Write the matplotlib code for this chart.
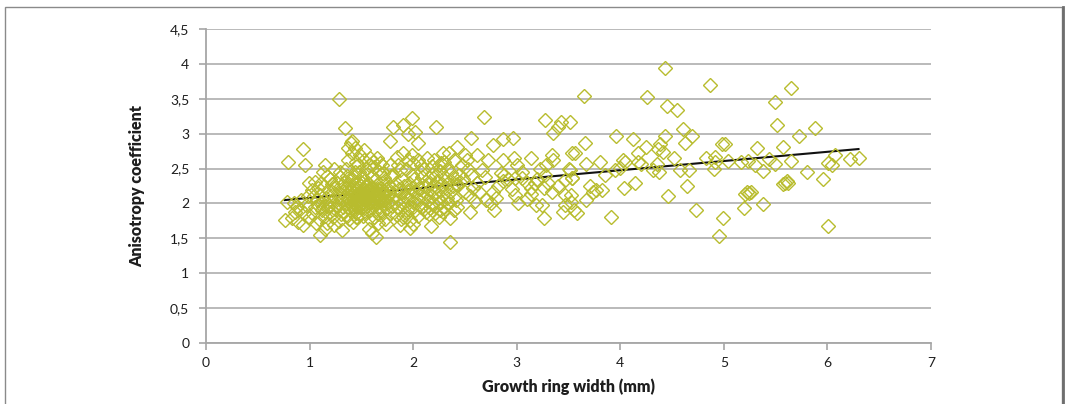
import matplotlib
matplotlib.use("Agg")
import matplotlib.pyplot as plt
from matplotlib.patches import Rectangle
from matplotlib.lines import Line2D
from matplotlib.ticker import FuncFormatter
import numpy as np

plt.rcParams['font.family'] = ['Lato', 'DejaVu Sans']

# Growth ring width (mm) and anisotropy coefficient per sample
ring_width_low = [
    0.78, 0.79, 0.76, 0.83, 0.86, 0.89, 0.91, 0.94, 0.94, 0.96, 0.97, 0.99, 0.99, 0.92, 0.88, 0.98, 0.85, 0.95,
    1.02, 1.05, 1.08, 1.10, 1.15, 1.13, 1.15, 1.24, 1.29, 1.24, 1.31, 1.28, 1.34,
    1.03, 1.05, 1.07, 1.09, 1.10, 1.12, 1.12, 1.14, 1.15, 1.16, 1.17, 1.18, 1.19, 1.20, 1.20, 1.21, 1.22, 1.23,
    1.24, 1.25, 1.26, 1.27, 1.28, 1.28, 1.29, 1.30, 1.30, 1.04, 1.06, 1.08, 1.11, 1.13, 1.17, 1.19, 1.22, 1.26, 1.29,
]
anisotropy_low = [
    2.02, 2.59, 1.76, 1.79, 1.88, 1.74, 1.92, 1.69, 2.78, 2.55, 1.98, 1.79, 2.29, 2.05, 1.95, 2.10, 2.00, 1.87,
    2.19, 2.31, 2.22, 1.55, 1.64, 2.45, 2.55, 2.50, 2.45, 1.69, 1.62, 3.50, 3.08,
    1.85, 1.95, 2.05, 1.78, 2.12, 1.90, 2.00, 2.25, 1.82, 2.08, 1.72, 1.95, 2.18, 2.35, 1.88, 2.03, 2.12, 1.80,
    2.22, 1.92, 2.30, 2.00, 1.75, 2.15, 2.08, 1.85, 2.25, 2.10, 1.72, 1.98, 2.30, 1.95, 2.40, 1.98, 2.28, 1.97, 2.38,
]

ring_width_mid = [
    1.37, 1.37, 1.40, 1.41, 1.41, 1.44, 1.45, 1.49, 1.53, 1.58, 1.61, 1.57, 1.60, 1.64, 1.42, 1.45, 1.71, 1.78, 1.81, 1.78,
    1.31, 1.32, 1.32, 1.33, 1.33, 1.34, 1.35, 1.35, 1.36, 1.36, 1.37, 1.37, 1.38, 1.38, 1.39, 1.39, 1.40, 1.40,
    1.41, 1.41, 1.42, 1.42, 1.43, 1.43, 1.44, 1.44, 1.45, 1.45, 1.46, 1.46, 1.47, 1.47, 1.48, 1.48, 1.49, 1.49,
    1.50, 1.50, 1.50, 1.51, 1.51, 1.52, 1.52, 1.53, 1.53, 1.54, 1.54, 1.55, 1.55, 1.56, 1.56, 1.57, 1.57, 1.58,
    1.58, 1.59, 1.59, 1.60, 1.60, 1.61, 1.61, 1.62, 1.62, 1.63, 1.63, 1.64, 1.64, 1.65, 1.65, 1.66, 1.66, 1.67,
    1.67, 1.68, 1.68, 1.69, 1.69, 1.70, 1.70, 1.71, 1.72, 1.72, 1.73, 1.73, 1.74, 1.75, 1.75, 1.76, 1.77, 1.77,
    1.78, 1.79, 1.79, 1.80, 1.80,
    1.35, 1.38, 1.43, 1.46, 1.48, 1.52, 1.55, 1.59, 1.62, 1.66, 1.70, 1.74, 1.47, 1.53, 1.57, 1.65, 1.68,
    1.44, 1.46, 1.48, 1.50, 1.52, 1.54, 1.56, 1.58, 1.60, 1.42, 1.40, 1.38, 1.44, 1.51, 1.55, 1.62, 1.64, 1.66,
    1.49, 1.53, 1.57, 1.61, 1.47, 1.45, 1.51, 1.55, 1.59, 1.63, 1.67, 1.71, 1.73, 1.69,
]
anisotropy_mid = [
    2.62, 2.79, 2.86, 2.72, 2.89, 2.79, 2.60, 2.69, 2.77, 2.65, 2.60, 1.63, 1.57, 1.52, 1.74, 1.81, 2.43, 2.55, 2.41, 2.89,
    2.05, 1.95, 2.18, 2.30, 1.88, 2.10, 2.00, 2.22, 1.82, 2.40, 2.08, 1.95, 2.15, 2.28, 2.02, 1.90, 2.12, 2.20,
    1.98, 2.35, 2.06, 2.25, 1.92, 2.16, 2.00, 2.45, 2.10, 1.87, 2.20, 2.03, 2.30, 1.95, 2.12, 2.08, 2.18, 1.99,
    2.05, 2.25, 1.85, 2.14, 2.38, 2.00, 2.10, 1.93, 2.20, 2.07, 2.50, 2.15, 1.97, 2.02, 2.30, 2.10, 1.89, 2.18,
    2.04, 2.24, 1.95, 2.08, 2.40, 2.00, 2.15, 1.80, 2.20, 2.05, 2.33, 1.92, 2.12, 2.00, 2.26, 2.10, 1.85, 2.18,
    2.45, 2.03, 1.95, 2.22, 2.08, 2.30, 1.88, 2.13, 2.00, 2.36, 2.05, 1.78, 2.20, 2.10, 1.93, 2.28, 2.02, 2.15,
    1.86, 2.22, 2.40, 2.07, 1.97,
    2.50, 1.78, 2.38, 1.80, 2.45, 1.82, 2.42, 1.76, 2.52, 1.72, 2.55, 1.70, 2.55, 2.62, 2.55, 2.65, 2.58,
    2.10, 2.14, 2.02, 2.15, 2.06, 2.18, 2.12, 2.00, 2.22, 2.15, 2.05, 2.22, 2.28, 2.30, 2.25, 2.10, 2.02, 2.20,
    2.10, 2.12, 2.20, 2.06, 2.05, 1.97, 1.95, 2.05, 2.14, 2.16, 2.06, 2.05, 2.15, 2.15,
]

ring_width_high = [
    1.81, 1.90, 1.99, 2.22, 2.02, 1.95, 2.05, 1.84, 1.90, 1.99, 1.95, 2.13, 2.08, 2.18, 2.29, 2.35, 2.39, 2.27, 2.33,
    1.87, 1.99, 2.08, 2.15, 2.22, 2.39, 2.45, 2.16, 2.21, 2.29, 2.36, 2.39, 1.97, 1.90, 1.87, 1.84, 2.36, 1.97, 2.00, 2.17,
    1.82, 1.83, 1.84, 1.85, 1.86, 1.87, 1.88, 1.89, 1.90, 1.91, 1.92, 1.93, 1.94, 1.95, 1.96, 1.97, 1.98, 1.99,
    2.00, 2.01, 2.02, 2.03, 2.04, 2.05, 2.06, 2.07, 2.08, 2.09, 2.10, 2.11, 2.12, 2.13, 2.14, 2.15, 2.16, 2.17,
    2.18, 2.19, 2.20, 2.21, 2.22, 2.23, 2.24, 2.25, 2.26, 2.27, 2.28, 2.29, 2.30, 2.31, 2.32, 2.33, 2.34, 2.35,
    2.36, 2.37, 2.38, 2.40, 2.41, 2.42,
    1.85, 1.93, 2.00, 2.05, 2.10, 2.20, 2.25, 2.30, 1.88, 2.05, 2.12, 2.25, 1.95, 2.08, 2.26,
    2.68, 3.27, 3.43, 3.40, 3.35, 2.56, 2.87, 2.96, 2.77, 2.42, 2.50, 2.72, 2.87, 2.97, 3.14, 3.34, 3.35, 3.53,
    3.22, 3.51, 2.47, 2.53, 2.44, 2.56, 2.69, 2.85, 2.88, 2.92, 2.87, 2.98, 3.05, 3.10, 3.14, 3.18, 3.27, 3.26,
    3.34, 3.47, 3.53, 3.47, 2.42, 2.50, 2.55, 2.64, 2.60, 2.70, 2.77, 2.80, 2.75, 2.78, 2.98, 3.01, 3.10, 3.14,
    3.19, 3.24, 3.26, 3.45, 3.47, 2.55, 2.42,
    2.62, 2.58, 2.66, 2.82, 2.95, 3.05, 3.20, 3.30, 3.40, 2.48, 2.52, 2.62, 3.00, 3.28,
    4.43, 3.65, 4.26, 4.45, 4.55, 3.51, 4.61, 4.69, 4.62, 3.96, 4.12, 4.43, 3.66, 3.56, 4.25, 4.38, 4.36, 4.41,
    4.17, 4.52, 3.67, 3.80, 4.03, 4.05, 4.17, 4.20, 4.35, 4.32, 4.37, 4.58, 4.66, 4.83, 4.91, 4.90, 3.85, 3.95,
    4.00, 3.53, 3.50, 4.14, 4.04, 4.64, 3.71, 3.77, 3.74, 3.82, 3.67, 4.46, 3.52, 3.52, 3.55, 3.58, 3.91, 4.73,
    4.87, 5.65, 5.49, 5.51, 5.88, 5.73, 4.98, 5.01, 5.32, 5.57, 4.91, 5.04, 5.17, 5.23, 5.30, 5.38, 5.44, 5.49,
    5.65, 6.01, 6.04, 6.07, 6.22, 6.30, 5.80, 5.96, 5.57, 5.59, 5.61, 5.62, 5.20, 5.22, 5.24, 5.26, 5.38, 5.19,
    4.99, 6.01, 4.95,
]
anisotropy_high = [
    3.10, 3.12, 3.22, 3.10, 3.03, 3.00, 2.86, 2.67, 2.72, 2.69, 2.62, 2.65, 2.55, 2.53, 2.72, 2.72, 2.62, 2.58, 2.50,
    2.48, 2.41, 2.45, 2.36, 2.41, 2.36, 2.31, 1.93, 1.86, 1.88, 1.79, 1.91, 1.76, 1.81, 1.69, 1.83, 1.45, 1.65, 1.70, 1.68,
    2.12, 2.30, 1.95, 2.05, 2.20, 1.90, 2.15, 2.35, 2.00, 2.25, 2.10, 1.86, 2.18, 2.05, 2.30, 1.95, 2.12, 2.22,
    2.02, 2.35, 1.90, 2.16, 2.28, 2.06, 1.98, 2.20, 2.10, 2.38, 1.92, 2.25, 2.14, 2.04, 2.30, 1.85, 2.20, 2.10,
    2.42, 2.00, 2.26, 2.15, 1.96, 2.32, 2.08, 2.20, 2.46, 2.02, 2.28, 2.14, 1.95, 2.38, 2.22, 2.08, 2.30, 2.00,
    2.16, 2.44, 2.25, 2.10, 2.05, 2.28,
    2.55, 2.50, 2.58, 2.62, 2.50, 2.62, 2.55, 2.60, 1.78, 1.82, 1.88, 1.80, 1.92, 1.95, 1.90,
    3.24, 3.19, 3.17, 3.10, 3.01, 2.94, 2.93, 2.94, 2.84, 2.81, 2.69, 2.62, 2.62, 2.65, 2.65, 2.69, 2.62, 2.72,
    2.50, 2.48, 2.55, 2.50, 2.41, 2.41, 2.38, 2.43, 2.41, 2.35, 2.32, 2.36, 2.36, 2.29, 2.22, 2.29, 2.41, 2.22,
    2.17, 2.34, 2.36, 2.12, 2.26, 2.17, 2.10, 2.17, 2.03, 2.05, 2.17, 2.08, 2.01, 1.91, 2.12, 2.00, 2.07, 2.14,
    1.98, 1.98, 1.79, 1.88, 1.98, 1.88, 1.95,
    2.30, 2.22, 2.48, 2.25, 2.20, 2.45, 2.35, 2.30, 2.25, 2.35, 2.62, 2.70, 2.55, 2.55,
    3.94, 3.54, 3.52, 3.39, 3.34, 3.17, 3.07, 2.96, 2.86, 2.97, 2.93, 2.96, 2.87, 2.72, 2.81, 2.85, 2.78, 2.74,
    2.72, 2.65, 2.56, 2.60, 2.62, 2.60, 2.60, 2.56, 2.57, 2.48, 2.45, 2.48, 2.48, 2.65, 2.60, 2.50, 2.41, 2.48,
    2.51, 2.36, 2.50, 2.30, 2.22, 2.25, 2.25, 2.19, 2.16, 2.19, 2.05, 2.10, 2.12, 2.02, 1.91, 1.86, 1.80, 1.91,
    3.70, 3.66, 3.45, 3.13, 3.08, 2.96, 2.85, 2.85, 2.79, 2.81, 2.67, 2.61, 2.60, 2.61, 2.55, 2.47, 2.63, 2.56,
    2.61, 2.58, 2.55, 2.69, 2.63, 2.65, 2.45, 2.35, 2.28, 2.30, 2.32, 2.29, 2.14, 2.17, 2.15, 2.17, 1.99, 1.93,
    1.79, 1.68, 1.53,
]

# Linear trend fitted to the samples: y = intercept + slope * x
trend_intercept = 1.948
trend_slope = 0.132

x_ticks = [0, 1, 2, 3, 4, 5, 6, 7]
y_ticks = [0, 0.5, 1, 1.5, 2, 2.5, 3, 3.5, 4, 4.5]

ring_width = np.array(ring_width_low + ring_width_mid + ring_width_high)
anisotropy = np.array(anisotropy_low + anisotropy_mid + anisotropy_high)

marker_color = '#b8bc2e'
grid_color = '#b4b4b4'
axis_color = '#a6a6a6'
text_color = '#1e1e1e'

fig = plt.figure(figsize=(10.65, 4.04), dpi=100)
ax = fig.add_axes([206 / 1065, 61 / 404, (931 - 206) / 1065, (343 - 29) / 404])

ax.plot(ring_width, anisotropy, linestyle='none', marker='D', markersize=7,
        markerfacecolor='none', markeredgecolor=marker_color, markeredgewidth=1.0, zorder=3)

trend_x = np.array([ring_width.min(), ring_width.max()])
ax.plot(trend_x, trend_intercept + trend_slope * trend_x, color='#111111', lw=1.5, zorder=2)

ax.set_xlim(x_ticks[0], x_ticks[-1])
ax.set_ylim(y_ticks[0], y_ticks[-1])
ax.set_xticks(x_ticks)
ax.set_yticks(y_ticks)

comma = FuncFormatter(lambda v, _: f"{v:g}".replace('.', ','))
ax.xaxis.set_major_formatter(comma)
ax.yaxis.set_major_formatter(comma)

ax.grid(axis='y', color=grid_color, lw=1.3, zorder=0)
ax.set_axisbelow(True)
for side in ('top', 'right'):
    ax.spines[side].set_visible(False)
for side in ('left', 'bottom'):
    ax.spines[side].set_color(axis_color)
    ax.spines[side].set_linewidth(1.3)
ax.tick_params(axis='both', direction='out', length=5, width=1.2, color=axis_color,
               labelsize=10, labelcolor=text_color)
ax.tick_params(axis='y', pad=7)
ax.tick_params(axis='x', pad=5)

ax.set_xlabel('Growth ring width (mm)', fontsize=11.5, fontweight='heavy', color=text_color, labelpad=7)
ax.set_ylabel('Anisotropy coefficient', fontsize=11.5, fontweight='heavy', color=text_color, labelpad=18)

# Chart frame
fig.patches.append(Rectangle((5 / 1065, -0.05), (1062 - 5) / 1065, (404 - 7) / 404 + 0.05,
                             transform=fig.transFigure, fill=False, ec='#8a8a8a', lw=1.0))
fig.lines.append(Line2D([1062.5 / 1065, 1062.5 / 1065], [0, (404 - 7) / 404],
                        transform=fig.transFigure, color='#6e6e6e', lw=2.0))

fig.savefig('out.png', dpi=100)
